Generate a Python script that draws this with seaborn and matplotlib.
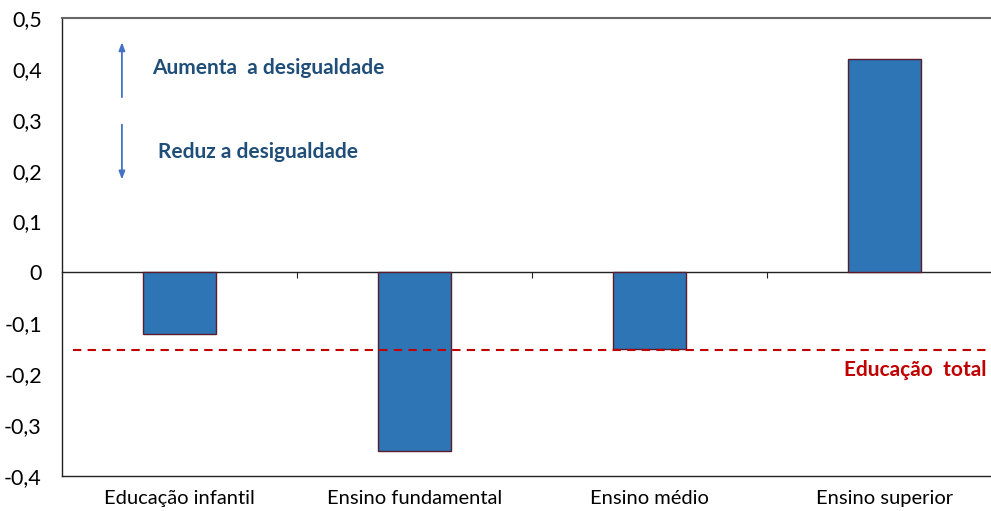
import matplotlib
matplotlib.use("Agg")
import matplotlib.pyplot as plt
import seaborn as sns
import pandas as pd

categories = ["Educação infantil", "Ensino fundamental", "Ensino médio", "Ensino superior"]
values = [-0.12, -0.35, -0.15, 0.42]
total_value = -0.152
yticks = [0.5, 0.4, 0.3, 0.2, 0.1, 0.0, -0.1, -0.2, -0.3, -0.4]
ytick_labels = ["0,5", "0,4", "0,3", "0,2", "0,1", "0", "-0,1", "-0,2", "-0,3", "-0,4"]

sns.set_theme(style="white")
plt.rcParams['font.family'] = ['Lato', 'DejaVu Sans']

df = pd.DataFrame({"cat": categories, "val": values})

fig = plt.figure(figsize=(9.91, 5.11), dpi=100)
ax = fig.add_axes([62/991, 35/511, 940/991, 458/511])

sns.barplot(data=df, x="cat", y="val", color="#2E75B6", saturation=1,
            width=0.31, edgecolor="#5a1c2c", linewidth=1.0, ax=ax, zorder=2)

ax.set_xlim(-0.5, 3.5)
ax.set_ylim(-0.4, 0.5)
ax.set_yticks(yticks)
ax.set_yticklabels(ytick_labels, fontsize=15.5, color="#000000")
ax.tick_params(axis="x", labelsize=14.5, length=0, pad=10, colors="#000000")
ax.tick_params(axis="y", length=0, pad=14.5)
ax.set_xlabel("")
ax.set_ylabel("")

for s in ["left", "bottom"]:
    ax.spines[s].set_color("#222222")
    ax.spines[s].set_linewidth(1.0)
ax.spines["top"].set_color("#666666")
ax.spines["top"].set_linewidth(1.5)
ax.spines["right"].set_visible(False)

# zero axis with category boundary ticks
ax0 = ax.secondary_xaxis(0, transform=ax.transData)
ax0.set_xticks([0.5, 1.5, 2.5])
ax0.set_xticklabels([])
ax0.tick_params(direction="out", length=4, width=0.8, colors="#222222")
ax0.spines["bottom"].set_color("#222222")
ax0.spines["bottom"].set_linewidth(1.0)

# total education reference line
ax.hlines(total_value, -0.455, 3.5, colors="#C00000", linestyles=(0, (4, 3)),
          linewidth=1.5, zorder=4)
ax.text(3.436, -0.192, "Educação  total", color="#C00000", fontsize=15,
        fontweight="bold", ha="right", va="center")

# arrows and annotations
arrow_kw = dict(arrowstyle="-|>,head_length=0.4,head_width=0.15", color="#4472C4", lw=1.3)
ax.annotate("", xy=(-0.245, 0.458), xytext=(-0.245, 0.339), arrowprops=arrow_kw)
ax.annotate("", xy=(-0.245, 0.177), xytext=(-0.245, 0.296), arrowprops=arrow_kw)
ax.text(-0.117, 0.402, "Aumenta  a desigualdade", color="#1F4E79", fontsize=15,
        fontweight="bold", ha="left", va="center")
ax.text(-0.091, 0.237, "Reduz a desigualdade", color="#1F4E79", fontsize=15,
        fontweight="bold", ha="left", va="center")

fig.savefig("out.png", dpi=100)
